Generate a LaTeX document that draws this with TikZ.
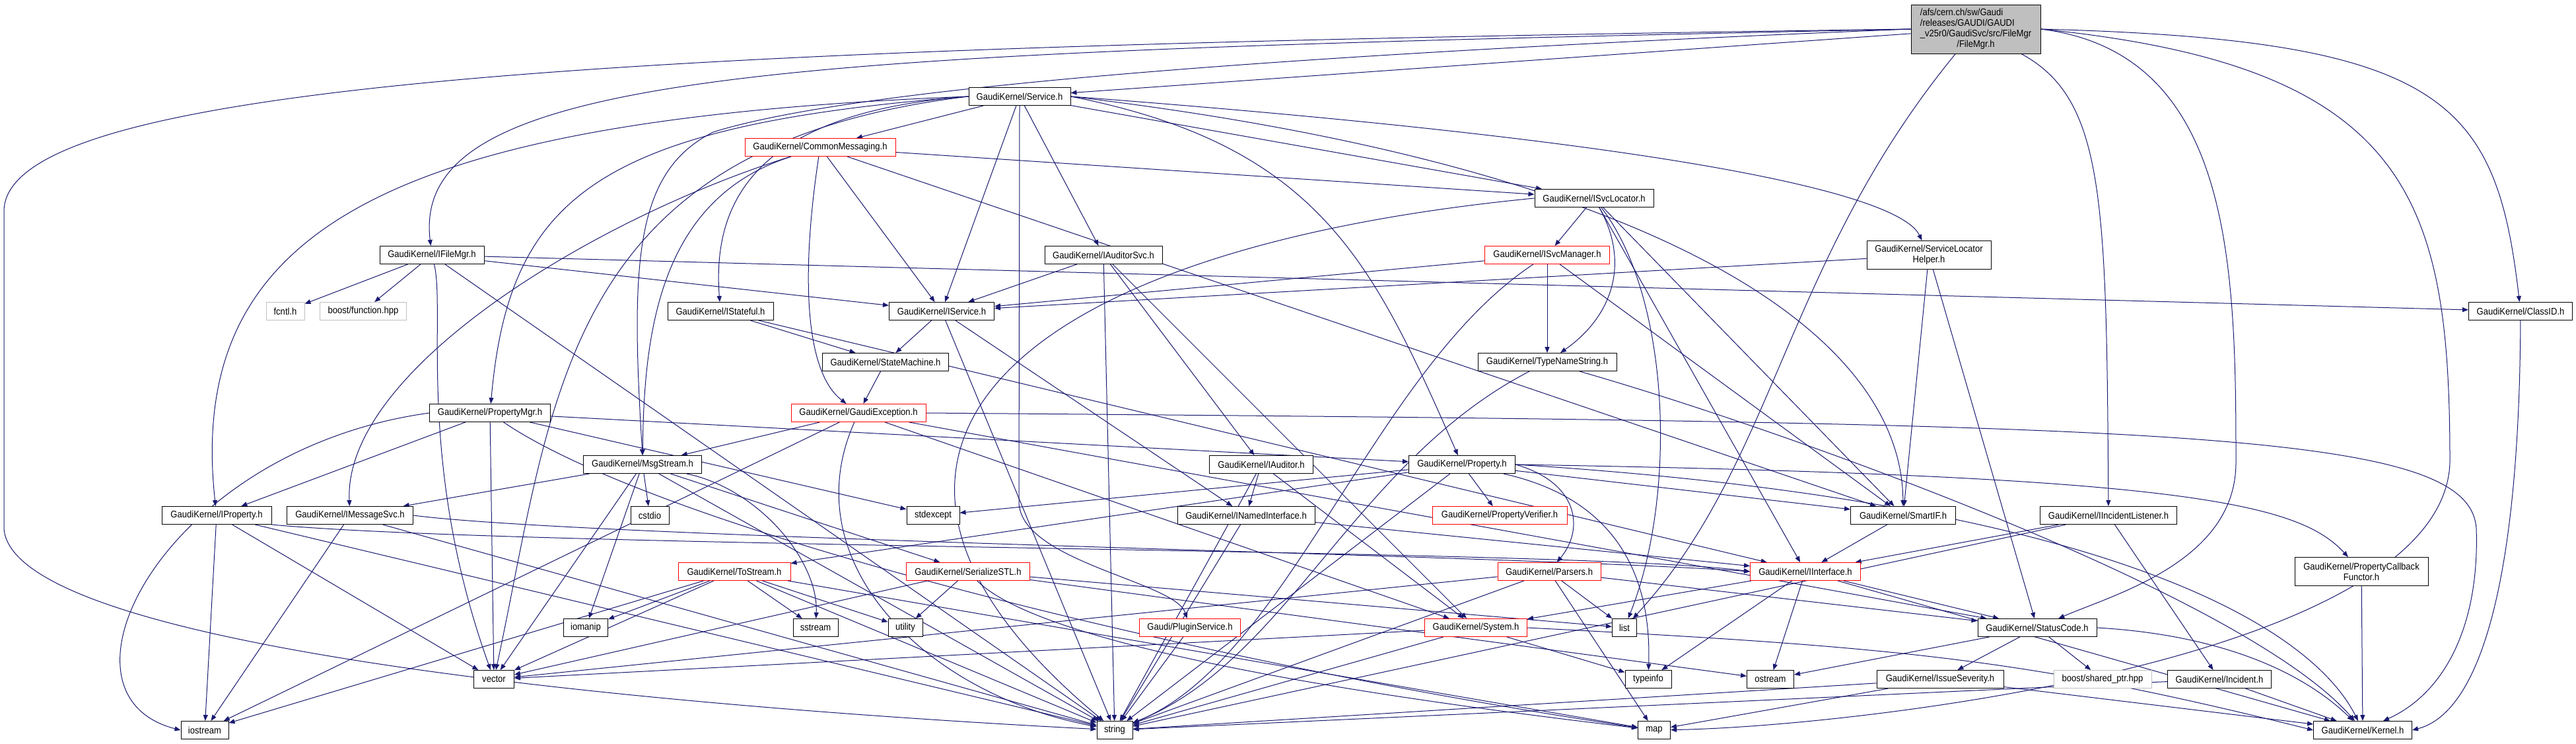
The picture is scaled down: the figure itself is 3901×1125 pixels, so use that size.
\documentclass[tikz,border=0pt]{standalone}
\usepackage{fontspec}
\newfontfamily\doxfont{Liberation Sans}[FakeStretch=0.9]
\usetikzlibrary{arrows.meta, backgrounds}
\definecolor{depblue}{RGB}{25,25,112}
\definecolor{rootgray}{RGB}{191,191,191}
\definecolor{boxgray}{RGB}{191,191,191}
\tikzset{
    box/.style={draw=black, fill=white, line width=1pt, minimum height=27, inner sep=0pt,
        font=\doxfont\fontsize{14.5}{16}\selectfont},
    redbox/.style={box, draw=red},
    graybox/.style={box, draw=boxgray},
    tallbox/.style={box, minimum height=43, align=center},
    dep/.style={draw=depblue, line width=1pt, -{Triangle[length=9pt,width=7pt]}}
}
\begin{document}
\begin{tikzpicture}[x=1pt, y=-1pt]
    \useasboundingbox (0,0) rectangle (3901,1125);
    % rows of headers, top to bottom
    \node[box, fill=rootgray, minimum width=196, minimum height=74] (root) at (2992,44)
        {\begin{tabular}{@{}l@{}}/afs/cern.ch/sw/Gaudi\\/releases/GAUDI/GAUDI\\\_v25r0/GaudiSvc/src/FileMgr\\\multicolumn{1}{@{}c@{}}{/FileMgr.h}\end{tabular}};
    \node[box, minimum width=154] (service) at (1544,146) {GaudiKernel/Service.h};
    \node[redbox, minimum width=228] (commonmsg) at (1242,223) {GaudiKernel/CommonMessaging.h};
    \node[box, minimum width=180] (isvclocator) at (2414,300) {GaudiKernel/ISvcLocator.h};
    \node[box, minimum width=158] (ifilemgr) at (654,386) {GaudiKernel/IFileMgr.h};
    \node[box, minimum width=178] (iauditorsvc) at (1671,386) {GaudiKernel/IAuditorSvc.h};
    \node[redbox, minimum width=189] (isvcmanager) at (2343,386) {GaudiKernel/ISvcManager.h};
    \node[tallbox, minimum width=188] (slhelper) at (2921,386) {GaudiKernel/ServiceLocator\\Helper.h};
    \node[graybox, minimum width=58] (fcntl) at (432,471) {fcntl.h};
    \node[graybox, minimum width=131] (boostfunc) at (550,471) {boost/function.hpp};
    \node[box, minimum width=160] (istateful) at (1091,471) {GaudiKernel/IStateful.h};
    \node[box, minimum width=159] (iservice) at (1426,471) {GaudiKernel/IService.h};
    \node[box, minimum width=157] (classid) at (3817,471) {GaudiKernel/ClassID.h};
    \node[box, minimum width=191] (statemachine) at (1341,548) {GaudiKernel/StateMachine.h};
    \node[box, minimum width=210] (typenamestring) at (2343,548) {GaudiKernel/TypeNameString.h};
    \node[box, minimum width=183] (propertymgr) at (742,625) {GaudiKernel/PropertyMgr.h};
    \node[redbox, minimum width=204] (gaudiexception) at (1300,625) {GaudiKernel/GaudiException.h};
    \node[box, minimum width=179] (msgstream) at (973,703) {GaudiKernel/MsgStream.h};
    \node[box, minimum width=157] (iauditor) at (1910,703) {GaudiKernel/IAuditor.h};
    \node[box, minimum width=161] (property) at (2214,703) {GaudiKernel/Property.h};
    \node[box, minimum width=166] (iproperty) at (328,780) {GaudiKernel/IProperty.h};
    \node[box, minimum width=191] (imessagesvc) at (530,780) {GaudiKernel/IMessageSvc.h};
    \node[box, minimum width=58] (cstdio) at (984,780) {cstdio};
    \node[box, minimum width=80] (stdexcept) at (1413,780) {stdexcept};
    \node[box, minimum width=208] (inamedinterface) at (1887,780) {GaudiKernel/INamedInterface.h};
    \node[redbox, minimum width=204] (propertyverifier) at (2271,780) {GaudiKernel/PropertyVerifier.h};
    \node[box, minimum width=159] (smartif) at (2882,780) {GaudiKernel/SmartIF.h};
    \node[box, minimum width=207] (iincidentlistener) at (3193,780) {GaudiKernel/IIncidentListener.h};
    \node[redbox, minimum width=170] (tostream) at (1112,865) {GaudiKernel/ToStream.h};
    \node[redbox, minimum width=187] (serializestl) at (1466,865) {GaudiKernel/SerializeSTL.h};
    \node[redbox, minimum width=156] (parsers) at (2346,865) {GaudiKernel/Parsers.h};
    \node[redbox, minimum width=167] (iinterface) at (2734,865) {GaudiKernel/IInterface.h};
    \node[tallbox, minimum width=202] (propcallback) at (3576,865) {GaudiKernel/PropertyCallback\\Functor.h};
    \node[box, minimum width=67] (iomanip) at (887,950) {iomanip};
    \node[box, minimum width=68] (sstream) at (1235,950) {sstream};
    \node[box, minimum width=52] (utility) at (1371,950) {utility};
    \node[redbox, minimum width=153] (pluginservice) at (1802,950) {Gaudi/PluginService.h};
    \node[redbox, minimum width=155] (system) at (2235,950) {GaudiKernel/System.h};
    \node[box, minimum width=37] (list) at (2460,950) {list};
    \node[box, minimum width=180] (statuscode) at (3085,950) {GaudiKernel/StatusCode.h};
    \node[box, minimum width=61] (vector) at (748,1028) {vector};
    \node[box, minimum width=70] (typeinfo) at (2496,1028) {typeinfo};
    \node[box, minimum width=71] (ostream) at (2681,1028) {ostream};
    \node[box, minimum width=192] (issueseverity) at (2938,1028) {GaudiKernel/IssueSeverity.h};
    \node[graybox, minimum width=148] (boostshared) at (3184,1028) {boost/shared\_ptr.hpp};
    \node[box, minimum width=157] (incident) at (3361,1028) {GaudiKernel/Incident.h};
    \node[box, minimum width=72] (iostream) at (310,1105) {iostream};
    \node[box, minimum width=54] (string) at (1688,1105) {string};
    \node[box, minimum width=49] (map) at (2505,1105) {map};
    \node[box, minimum width=149] (kernel) at (3578,1105) {GaudiKernel/Kernel.h};

    \begin{scope}[on background layer]
    \fill[white] (0,0) rectangle (3901,1125);
    \foreach \t/\h in {root/service,
        service/commonmsg, service/iservice, service/isvclocator, service/iauditorsvc,
        commonmsg/iservice, commonmsg/isvclocator, commonmsg/smartif,
        ifilemgr/fcntl, ifilemgr/boostfunc, ifilemgr/classid, ifilemgr/iservice, ifilemgr/string,
        isvclocator/isvcmanager, isvclocator/smartif, isvclocator/iinterface,
        isvcmanager/iservice, isvcmanager/typenamestring, isvcmanager/smartif,
        slhelper/iservice, slhelper/smartif, slhelper/statuscode,
        iauditorsvc/iservice, iauditorsvc/iauditor, iauditorsvc/string, iauditorsvc/system,
        iauditor/inamedinterface, iauditor/system, iauditor/string,
        istateful/statemachine, istateful/iinterface, statemachine/gaudiexception,
        iservice/statemachine, iservice/inamedinterface, iservice/string,
        inamedinterface/iinterface, inamedinterface/string,
        propertymgr/iproperty, propertymgr/property, propertymgr/stdexcept, propertymgr/vector,
        gaudiexception/msgstream, gaudiexception/iostream, gaudiexception/system, gaudiexception/statuscode,
        msgstream/imessagesvc, msgstream/cstdio, msgstream/iomanip, msgstream/vector,
        msgstream/string, msgstream/serializestl,
        iproperty/iostream, iproperty/string, iproperty/vector,
        imessagesvc/iostream, imessagesvc/string,
        tostream/iomanip, tostream/sstream, tostream/vector, tostream/iostream,
        tostream/string, tostream/map, tostream/utility,
        serializestl/utility, serializestl/vector, serializestl/ostream, serializestl/list,
        property/stdexcept, property/tostream, property/string, property/propertyverifier, property/smartif,
        parsers/vector, parsers/string, parsers/list, parsers/map, parsers/statuscode,
        pluginservice/string, system/string, system/typeinfo, system/vector,
        iinterface/system, iinterface/typeinfo, iinterface/ostream, iinterface/statuscode, iinterface/kernel,
        smartif/iinterface,
        iincidentlistener/iinterface, iincidentlistener/incident, iincidentlistener/string,
        incident/string, incident/kernel,
        statuscode/ostream, statuscode/issueseverity, statuscode/boostshared,
        issueseverity/string, issueseverity/map, issueseverity/kernel,
        propcallback/kernel}
        \draw[dep] (\t) -- (\h);
    % routed connectors
    \draw[dep] (root.west) .. controls (1000,70) and (6,120) .. (6,320) -- (6,800)
        .. controls (20,1000) and (1200,1080) .. (string);
    \draw[dep] (root.west) .. controls (1200,80) and (620,100) .. (ifilemgr);
    \draw[dep] (root.west) .. controls (2000,80) and (1300,130) .. (1080,200)
        .. controls (960,260) and (955,400) .. (msgstream.north);
    \draw[dep] (root) .. controls (3187,150) and (3190,300) .. (iincidentlistener);
    \draw[dep] (root.east) .. controls (3380,80) and (3386,400) .. (3386,700)
        .. controls (3386,850) and (3200,900) .. (statuscode);
    \draw[dep] (root.east) .. controls (3650,100) and (3710,300) .. (3710,700)
        .. controls (3700,1000) and (2800,1100) .. (map);
    \draw[dep] (root.east) .. controls (3700,60) and (3780,150) .. (classid);
    \draw[dep] (root) .. controls (2700,400) and (2690,700) .. (list);
    \draw[dep] (service.west) .. controls (900,190) and (771,300) .. (propertymgr);
    \draw[dep] (service.west) .. controls (1150,170) and (1078,300) .. (istateful);
    \draw[dep] (service.west) .. controls (600,180) and (280,340) .. (iproperty);
    \draw[dep] (service.west) .. controls (850,220) and (840,600) .. (vector);
    \draw[dep] (service.south) -- (1543,760) .. controls (1545,850) and (1780,880) .. (pluginservice);
    \draw[dep] (service.east) .. controls (2000,220) and (2080,400) .. (property);
    \draw[dep] (service.east) .. controls (2500,250) and (2880,500) .. (smartif);
    \draw[dep] (service.east) .. controls (2600,220) and (2880,300) .. (slhelper);
    \draw[dep] (commonmsg) .. controls (900,330) and (520,560) .. (imessagesvc);
    \draw[dep] (commonmsg) .. controls (1000,300) and (975,500) .. (msgstream);
    \draw[dep] (commonmsg) .. controls (1215,400) and (1215,560) .. (gaudiexception);
    \draw[dep] (ifilemgr) .. controls (675,470) and (630,700) .. (vector);
    \draw[dep] (isvclocator.west) .. controls (1500,380) and (1200,700) .. (string);
    \draw[dep] (isvclocator) .. controls (2470,400) and (2440,480) .. (typenamestring);
    \draw[dep] (isvclocator) .. controls (2530,450) and (2540,750) .. (list);
    \draw[dep] (isvcmanager) .. controls (2080,560) and (1950,1000) .. (string);
    \draw[dep] (typenamestring) .. controls (2050,700) and (1950,1000) .. (string);
    \draw[dep] (typenamestring) .. controls (2700,650) and (3400,900) .. (kernel);
    \draw[dep] (propertymgr.west) .. controls (250,680) and (60,1050) .. (iostream.west);
    \draw[dep] (propertymgr) .. controls (1000,800) and (1800,1000) .. (map);
    \draw[dep] (gaudiexception) .. controls (1200,850) and (1400,1050) .. (string);
    \draw[dep] (gaudiexception.east) .. controls (3300,640) and (3740,650) .. (3750,800)
        .. controls (3755,950) and (3700,1050) .. (kernel);
    \draw[dep] (msgstream) .. controls (1150,740) and (1240,850) .. (sstream);
    \draw[dep] (iproperty.south east) .. controls (800,830) and (2400,830) .. (iinterface.west);
    \draw[dep] (imessagesvc.east) .. controls (900,815) and (2300,840) .. (iinterface.west);
    \draw[dep] (serializestl) .. controls (1600,1000) and (2300,1080) .. (map);
    \draw[dep] (property) .. controls (2470,760) and (2500,900) .. (typeinfo);
    \draw[dep] (property.east) .. controls (2390,730) and (2400,800) .. (parsers);
    \draw[dep] (property.east) .. controls (3300,720) and (3480,760) .. (propcallback);
    \draw[dep] (property.east) .. controls (3200,760) and (3500,950) .. (kernel);
    \draw[dep] (system.east) .. controls (2900,980) and (3080,1000) .. (kernel.west);
    \draw[dep] (statuscode.east) .. controls (3350,960) and (3480,1010) .. (kernel);
    \draw[dep] (classid) .. controls (3815,900) and (3750,1080) .. (kernel.east);
    \end{scope}
\end{tikzpicture}
\end{document}
